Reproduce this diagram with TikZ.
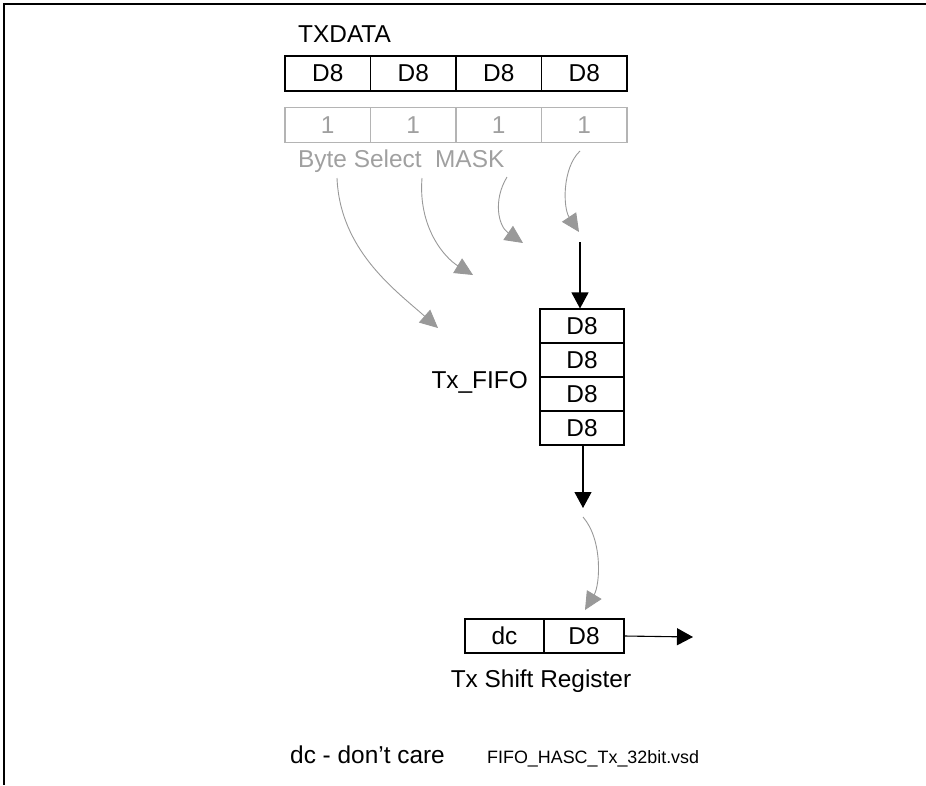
\documentclass[tikz,border=0pt]{standalone}
\usepackage{fontspec}
\setmainfont{Liberation Sans}
\usetikzlibrary{arrows.meta}
\definecolor{maskgray}{HTML}{B4B4B4}
\definecolor{txtgray}{HTML}{A0A0A0}
\definecolor{arrgray}{HTML}{999999}
\tikzset{
  big/.style={font=\fontsize{24.4}{29}\selectfont},
  small/.style={font=\fontsize{17.9}{21}\selectfont},
  cell/.style={draw=black, line width=1.1pt, rectangle, inner sep=0pt, big},
  hcell/.style={cell, minimum width=85.5pt, minimum height=35pt},
  fcell/.style={cell, minimum width=84pt, minimum height=34pt},
  mcell/.style={hcell, draw=maskgray, text=txtgray},
  grayarrow/.style={draw=arrgray, line width=0.9pt, -{Triangle[length=18pt,width=17pt]}},
  blackarrow/.style={draw=black, line width=1.1pt, -{Triangle[length=16pt,width=17pt]}},
  lbl/.style={big, inner sep=0pt},
}
\begin{document}
\begin{tikzpicture}[x=1pt,y=-1pt]
\useasboundingbox (0,0) rectangle (926,785);
\draw[line width=2pt] (926,3.5) -- (3.5,3.5) -- (3.5,785);

% TXDATA
\node[lbl, anchor=base west] (txdata) at (298,42) {TXDATA};
\node[hcell] (t1) at (327.75,73.5) {D8};
\node[hcell] (t2) at (413.25,73.5) {D8};
\node[hcell] (t3) at (498.75,73.5) {D8};
\node[hcell] (t4) at (584.25,73.5) {D8};

% MASK
\node[mcell] (m1) at (327.75,125) {1};
\node[mcell] (m2) at (413.25,125) {1};
\node[mcell] (m3) at (498.75,125) {1};
\node[mcell] (m4) at (584.25,125) {1};
\node[lbl, text=txtgray, anchor=base west] (masklbl) at (298,167) {Byte Select~ MASK};

% FIFO
\node[fcell] (f1) at (582,326) {D8};
\node[fcell] (f2) at (582,360) {D8};
\node[fcell] (f3) at (582,394) {D8};
\node[fcell] (f4) at (582,428) {D8};
\node[lbl, anchor=base east] (fifolbl) at (528,388) {Tx\_FIFO};

% Shift register
\node[cell, minimum width=79pt, minimum height=34pt] (sdc) at (504.5,636) {dc};
\node[cell, minimum width=80pt, minimum height=34pt] (sd8) at (584,636) {D8};
\node[lbl, anchor=base] (shiftlbl) at (541,687) {Tx Shift Register};

% footer
\node[lbl, anchor=base west] (dclbl) at (290,763) {dc - don’t care};
\node[small, inner sep=0pt, anchor=base west] (filelbl) at (487,763) {FIFO\_HASC\_Tx\_32bit.vsd};

% coordinates
\coordinate (a1s) at (337,178);
\coordinate (a1e) at (438,328);
\coordinate (a2s) at (422,178);
\coordinate (a2e) at (473,275);
\coordinate (a3s) at (507,177);
\coordinate (a3e) at (523,243);
\coordinate (a4s) at (580,151);
\coordinate (a4e) at (579,232);
\coordinate (b1s) at (580,242);
\coordinate (b2e) at (583,508);
\coordinate (g5s) at (583,517);
\coordinate (g5e) at (585,610);
\coordinate (outE) at (693,637);

% gray arrows
\draw[grayarrow] (a1s) .. controls (340,250) and (395,290) .. (a1e);
\draw[grayarrow] (a2s) .. controls (418,228) and (445,258) .. (a2e);
\draw[grayarrow] (a3s) .. controls (493,200) and (498,226) .. (a3e);
\draw[grayarrow] (a4s) .. controls (562,168) and (563,208) .. (a4e);
\draw[grayarrow] (g5s) .. controls (603,540) and (600,585) .. (g5e);

% black arrows
\draw[blackarrow] (b1s) -- (b1s |- f1.north);
\draw[blackarrow] (f4.south -| b2e) -- (b2e);
\draw[blackarrow] (sd8.east) -- (outE);
\end{tikzpicture}
\end{document}
